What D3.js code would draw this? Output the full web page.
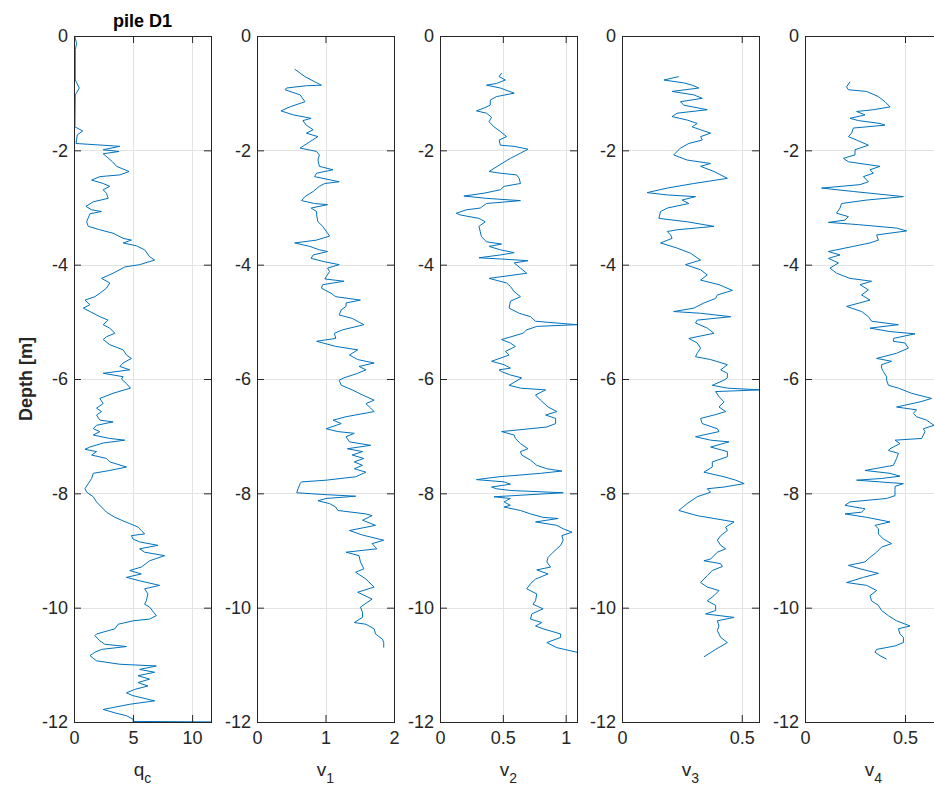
<!DOCTYPE html>
<html>
<head>
<meta charset="utf-8">
<script src="https://cdn.jsdelivr.net/npm/d3@7"></script>
<style>
body { margin: 0; background: #fff; }
svg { display: block; font-family: "Liberation Sans", Arial, sans-serif; }
</style>
</head>
<body>
<div id="main"></div>
<script>
/// data: [depth (m, positive down), value] ///
const qc = [[0,0.06],[0.13,0.22],[0.24,0.11],[0.77,0.11],[0.91,0.45],[1.03,0.11],[1.59,0.08],[1.66,0.73],[1.73,0.28],[1.88,0.17],
  [1.93,3.88],[1.99,2.47],[2.02,3.82],[2.06,2.47],[2.2,3.26],[2.28,3.6],[2.37,4.66],[2.43,3.88],[2.46,2.19],[2.52,1.49],
  [2.58,2.47],[2.63,3.03],[2.69,2.47],[2.75,2.75],[2.84,2.89],[2.9,1.63],[2.98,1.01],[3.04,1.49],[3.07,2.33],[3.11,1.35],
  [3.25,1.07],[3.33,1.21],[3.39,2.19],[3.45,3.31],[3.54,4.16],[3.57,4.86],[3.62,4.16],[3.67,5.28],[3.74,5.98],[3.86,6.4],
  [3.92,6.83],[4.0,5.56],[4.04,4.3],[4.15,3.31],[4.24,2.33],[4.32,3.03],[4.41,2.75],[4.5,2.19],[4.56,1.77],[4.62,0.93],
  [4.7,1.35],[4.76,0.79],[4.82,1.35],[4.91,2.19],[4.97,2.89],[5.05,2.47],[5.11,3.03],[5.2,3.46],[5.26,2.75],[5.31,2.47],
  [5.4,3.03],[5.49,4.16],[5.58,4.44],[5.64,4.86],[5.72,4.16],[5.78,3.88],[5.84,4.72],[5.9,2.47],[5.96,4.16],[6.0,4.02],
  [6.08,4.44],[6.16,4.78],[6.25,3.31],[6.34,2.19],[6.43,2.47],[6.51,1.91],[6.57,2.33],[6.63,1.91],[6.72,2.19],[6.75,3.31],
  [6.81,1.91],[6.87,1.63],[6.92,2.19],[6.98,1.63],[7.04,3.03],[7.07,4.3],[7.12,2.47],[7.19,1.35],[7.23,0.93],[7.27,1.91],
  [7.33,1.49],[7.39,2.75],[7.45,3.03],[7.54,4.44],[7.6,3.03],[7.65,1.63],[7.74,1.49],[7.83,1.21],[7.92,0.93],[7.98,1.07],
  [8.06,1.63],[8.15,1.91],[8.24,2.33],[8.33,2.75],[8.42,3.46],[8.47,4.02],[8.53,4.72],[8.59,5.42],[8.65,5.7],[8.71,5.98],
  [8.74,4.86],[8.8,5.0],[8.85,5.56],[8.91,7.11],[8.97,5.56],[9.03,5.98],[9.09,7.67],[9.18,6.4],[9.29,5.7],[9.35,4.72],
  [9.41,5.7],[9.47,4.44],[9.53,5.56],[9.61,7.25],[9.67,5.98],[9.76,6.26],[9.88,6.12],[9.94,5.98],[9.99,6.4],[10.14,6.97],
  [10.2,6.4],[10.23,5.0],[10.29,3.74],[10.37,3.46],[10.46,1.91],[10.49,1.77],[10.58,2.19],[10.64,2.61],[10.68,4.44],[10.73,2.33],
  [10.78,1.77],[10.84,1.35],[10.93,1.91],[10.99,3.88],[11.02,6.97],[11.08,5.56],[11.13,6.83],[11.19,5.42],[11.25,6.4],[11.31,5.42],
  [11.37,6.26],[11.43,5.14],[11.49,4.44],[11.54,5.0],[11.63,6.83],[11.69,4.72],[11.78,2.47],[11.84,3.46],[11.89,4.44],[11.95,5.0],
  [11.99,5.0],[12.0,13.0]];

const v1 = [[0.58,0.55],[0.71,0.70],[0.8,0.84],[0.86,0.94],[0.87,0.72],[0.91,0.43],[0.94,0.41],[1.03,0.63],[1.15,0.70],[1.24,0.48],
  [1.31,0.35],[1.38,0.53],[1.44,0.79],[1.48,0.67],[1.56,0.72],[1.64,0.82],[1.7,0.72],[1.76,0.89],[1.85,0.77],[1.96,0.63],
  [2.02,0.87],[2.08,0.91],[2.17,0.89],[2.28,0.91],[2.34,1.11],[2.4,0.87],[2.46,0.84],[2.55,1.2],[2.58,0.99],[2.63,0.91],
  [2.72,0.82],[2.81,0.70],[2.88,0.65],[2.93,0.84],[2.95,1.03],[3.01,0.79],[3.07,0.87],[3.13,0.87],[3.25,0.89],[3.33,0.96],
  [3.45,1.03],[3.5,1.06],[3.57,0.87],[3.62,0.55],[3.68,0.77],[3.74,0.91],[3.77,1.03],[3.83,0.82],[3.89,0.79],[3.95,0.99],
  [4.0,1.2],[4.06,1.03],[4.12,1.06],[4.21,1.01],[4.25,0.99],[4.29,1.27],[4.35,0.96],[4.41,0.94],[4.5,1.08],[4.56,1.15],
  [4.62,1.51],[4.67,1.3],[4.73,1.3],[4.79,1.23],[4.88,1.2],[4.94,1.39],[5.05,1.56],[5.14,1.25],[5.2,1.13],[5.29,1.15],
  [5.34,0.87],[5.43,1.15],[5.49,1.47],[5.58,1.35],[5.66,1.47],[5.72,1.71],[5.78,1.49],[5.84,1.59],[5.9,1.47],[5.98,1.27],
  [6.02,1.2],[6.11,1.23],[6.19,1.39],[6.28,1.54],[6.37,1.71],[6.43,1.59],[6.51,1.66],[6.57,1.71],[6.66,1.3],[6.72,1.11],
  [6.78,1.23],[6.87,1.01],[6.92,1.18],[6.95,1.42],[7.01,1.3],[7.1,1.35],[7.16,1.66],[7.22,1.32],[7.27,1.54],[7.33,1.39],
  [7.39,1.56],[7.45,1.42],[7.51,1.54],[7.57,1.42],[7.63,1.59],[7.71,1.44],[7.77,1.01],[7.8,0.65],[7.83,0.63],[7.92,0.6],
  [7.99,0.58],[8.02,0.96],[8.05,1.44],[8.09,1.01],[8.13,0.89],[8.18,1.06],[8.24,1.15],[8.3,1.18],[8.36,1.59],[8.39,1.68],
  [8.47,1.54],[8.56,1.73],[8.65,1.35],[8.73,1.54],[8.82,1.85],[8.88,1.68],[8.97,1.75],[9.03,1.3],[9.09,1.49],[9.2,1.51],
  [9.32,1.56],[9.38,1.44],[9.5,1.59],[9.64,1.71],[9.73,1.47],[9.85,1.68],[9.99,1.51],[10.08,1.54],[10.17,1.54],[10.26,1.42],
  [10.29,1.59],[10.37,1.71],[10.46,1.73],[10.55,1.83],[10.61,1.85],[10.7,1.85]];

const v2 = [[0.65,0.49],[0.71,0.47],[0.77,0.52],[0.83,0.45],[0.86,0.37],[0.91,0.48],[1.0,0.59],[1.06,0.45],[1.12,0.4],[1.21,0.4],
  [1.26,0.35],[1.31,0.29],[1.35,0.37],[1.42,0.41],[1.5,0.39],[1.59,0.43],[1.67,0.48],[1.76,0.53],[1.82,0.47],[1.91,0.48],
  [1.93,0.59],[1.98,0.7],[2.05,0.64],[2.14,0.56],[2.26,0.47],[2.37,0.39],[2.4,0.48],[2.43,0.61],[2.49,0.63],[2.58,0.64],
  [2.63,0.51],[2.69,0.48],[2.75,0.35],[2.8,0.19],[2.84,0.37],[2.88,0.64],[2.93,0.37],[3.01,0.32],[3.04,0.21],[3.1,0.13],
  [3.13,0.16],[3.19,0.31],[3.25,0.36],[3.33,0.31],[3.42,0.32],[3.51,0.33],[3.6,0.37],[3.64,0.49],[3.68,0.39],[3.74,0.48],
  [3.79,0.59],[3.83,0.48],[3.88,0.31],[3.9,0.48],[3.93,0.7],[3.97,0.59],[4.06,0.64],[4.15,0.69],[4.24,0.39],[4.32,0.53],
  [4.38,0.56],[4.47,0.59],[4.56,0.64],[4.64,0.56],[4.76,0.55],[4.85,0.63],[4.91,0.72],[4.99,0.76],[5.05,1.09],[5.08,0.77],
  [5.14,0.69],[5.2,0.66],[5.31,0.49],[5.37,0.56],[5.43,0.6],[5.52,0.52],[5.58,0.55],[5.69,0.41],[5.75,0.51],[5.81,0.56],
  [5.84,0.47],[5.87,0.49],[5.93,0.56],[5.98,0.65],[6.11,0.55],[6.16,0.64],[6.19,0.84],[6.28,0.76],[6.37,0.8],[6.49,0.86],
  [6.57,0.93],[6.63,0.84],[6.69,0.92],[6.78,0.92],[6.84,0.85],[6.92,0.49],[6.98,0.59],[7.04,0.6],[7.13,0.64],[7.22,0.7],
  [7.27,0.64],[7.33,0.65],[7.42,0.72],[7.51,0.77],[7.57,0.85],[7.61,0.97],[7.65,0.8],[7.71,0.47],[7.76,0.29],[7.8,0.51],
  [7.84,0.56],[7.89,0.41],[7.92,0.45],[7.95,0.56],[7.99,0.98],[8.04,0.59],[8.06,0.43],[8.09,0.56],[8.15,0.51],[8.21,0.56],
  [8.24,0.51],[8.3,0.64],[8.36,0.72],[8.42,0.82],[8.44,0.94],[8.5,0.76],[8.56,0.93],[8.62,0.98],[8.68,1.05],[8.74,0.97],
  [8.82,0.98],[8.91,0.96],[9.03,0.9],[9.12,0.86],[9.2,0.85],[9.29,0.88],[9.34,0.77],[9.41,0.86],[9.5,0.76],[9.58,0.72],
  [9.67,0.69],[9.76,0.77],[9.88,0.76],[9.94,0.74],[10.02,0.82],[10.11,0.73],[10.2,0.72],[10.26,0.81],[10.32,0.76],[10.37,0.82],
  [10.46,0.96],[10.52,0.96],[10.61,0.85],[10.7,0.93],[10.78,1.09]];

const v3 = [[0.71,0.237],[0.77,0.175],[0.82,0.258],[0.86,0.293],[0.91,0.321],[0.97,0.209],[1.03,0.3],[1.09,0.335],[1.15,0.244],[1.21,0.258],
  [1.29,0.356],[1.35,0.23],[1.41,0.209],[1.47,0.272],[1.53,0.314],[1.59,0.293],[1.64,0.328],[1.7,0.37],[1.76,0.328],[1.82,0.335],
  [1.88,0.279],[1.96,0.244],[2.08,0.216],[2.17,0.272],[2.23,0.37],[2.28,0.328],[2.37,0.384],[2.49,0.44],[2.58,0.3],[2.66,0.189],
  [2.74,0.105],[2.78,0.189],[2.81,0.307],[2.87,0.251],[2.93,0.279],[3.01,0.189],[3.07,0.161],[3.19,0.154],[3.25,0.272],[3.33,0.384],
  [3.39,0.23],[3.42,0.189],[3.48,0.203],[3.54,0.209],[3.62,0.161],[3.71,0.23],[3.8,0.286],[3.92,0.328],[4.0,0.265],[4.09,0.328],
  [4.18,0.356],[4.27,0.328],[4.35,0.405],[4.45,0.461],[4.53,0.398],[4.59,0.391],[4.67,0.342],[4.76,0.3],[4.82,0.216],[4.85,0.328],
  [4.91,0.454],[4.97,0.314],[5.02,0.307],[5.11,0.356],[5.2,0.384],[5.29,0.279],[5.37,0.314],[5.46,0.328],[5.55,0.314],[5.61,0.307],
  [5.66,0.37],[5.75,0.44],[5.84,0.412],[5.9,0.44],[5.98,0.44],[6.02,0.426],[6.11,0.377],[6.16,0.44],[6.19,0.58],[6.22,0.391],
  [6.31,0.405],[6.4,0.426],[6.49,0.405],[6.57,0.433],[6.63,0.384],[6.69,0.328],[6.78,0.335],[6.87,0.398],[6.92,0.405],[7.01,0.307],
  [7.07,0.37],[7.1,0.447],[7.19,0.37],[7.27,0.44],[7.36,0.44],[7.45,0.377],[7.54,0.377],[7.63,0.342],[7.71,0.426],[7.77,0.475],
  [7.83,0.51],[7.89,0.426],[7.92,0.356],[7.98,0.37],[8.06,0.314],[8.18,0.272],[8.3,0.237],[8.39,0.314],[8.47,0.426],[8.5,0.468],
  [8.59,0.433],[8.65,0.44],[8.74,0.412],[8.82,0.398],[8.91,0.412],[8.97,0.433],[9.03,0.398],[9.15,0.37],[9.18,0.342],[9.23,0.412],
  [9.28,0.419],[9.35,0.377],[9.44,0.356],[9.56,0.328],[9.64,0.356],[9.7,0.405],[9.79,0.384],[9.88,0.356],[9.96,0.391],[10.05,0.391],
  [10.11,0.349],[10.17,0.468],[10.23,0.398],[10.32,0.405],[10.4,0.398],[10.52,0.412],[10.61,0.44],[10.73,0.391],[10.86,0.342]];

const v4 = [[0.8,0.225],[0.89,0.208],[0.94,0.217],[0.97,0.308],[1.06,0.367],[1.15,0.4],[1.24,0.425],[1.29,0.342],[1.32,0.258],[1.38,0.3],
  [1.44,0.225],[1.48,0.267],[1.53,0.375],[1.56,0.4],[1.61,0.242],[1.7,0.233],[1.76,0.217],[1.82,0.258],[1.91,0.317],[1.99,0.25],
  [2.08,0.25],[2.14,0.192],[2.2,0.217],[2.28,0.375],[2.34,0.325],[2.4,0.342],[2.46,0.292],[2.55,0.317],[2.6,0.275],[2.66,0.083],
  [2.72,0.242],[2.81,0.492],[2.87,0.308],[2.93,0.183],[3.01,0.175],[3.1,0.158],[3.16,0.217],[3.22,0.2],[3.26,0.117],[3.3,0.267],
  [3.36,0.458],[3.41,0.508],[3.48,0.358],[3.57,0.367],[3.62,0.325],[3.68,0.242],[3.77,0.117],[3.83,0.175],[3.89,0.117],[3.97,0.167],
  [4.06,0.125],[4.15,0.158],[4.24,0.225],[4.29,0.333],[4.35,0.275],[4.44,0.317],[4.53,0.283],[4.62,0.325],[4.73,0.208],[4.82,0.283],
  [4.91,0.317],[4.99,0.333],[5.05,0.467],[5.11,0.325],[5.17,0.425],[5.21,0.55],[5.29,0.442],[5.34,0.442],[5.37,0.5],[5.46,0.517],
  [5.55,0.458],[5.64,0.358],[5.69,0.433],[5.75,0.383],[5.81,0.383],[5.87,0.392],[5.96,0.408],[6.02,0.408],[6.11,0.417],[6.16,0.467],
  [6.25,0.533],[6.34,0.633],[6.4,0.575],[6.49,0.458],[6.54,0.558],[6.6,0.542],[6.66,0.558],[6.72,0.608],[6.81,0.645],[6.87,0.592],
  [6.92,0.6],[6.98,0.592],[7.04,0.583],[7.07,0.45],[7.13,0.475],[7.22,0.425],[7.25,0.417],[7.3,0.467],[7.39,0.458],[7.51,0.442],
  [7.6,0.3],[7.65,0.425],[7.7,0.475],[7.74,0.383],[7.77,0.258],[7.8,0.375],[7.83,0.492],[7.88,0.45],[7.95,0.45],[8.04,0.45],
  [8.09,0.408],[8.15,0.225],[8.21,0.2],[8.27,0.3],[8.33,0.283],[8.36,0.2],[8.42,0.308],[8.5,0.425],[8.56,0.35],[8.62,0.367],
  [8.71,0.367],[8.8,0.392],[8.88,0.433],[8.94,0.383],[9.03,0.358],[9.12,0.325],[9.2,0.3],[9.26,0.217],[9.32,0.275],[9.4,0.367],
  [9.47,0.292],[9.56,0.208],[9.61,0.308],[9.7,0.358],[9.79,0.325],[9.88,0.333],[9.96,0.367],[10.05,0.383],[10.14,0.417],[10.23,0.458],
  [10.32,0.525],[10.37,0.467],[10.46,0.475],[10.52,0.492],[10.61,0.492],[10.67,0.45],[10.73,0.358],[10.78,0.35],[10.84,0.375],[10.9,0.408]];

const seriesList = [qc, v1, v2, v3, v4];
const seriesNames = [['q', 'c'], ['v', '1'], ['v', '2'], ['v', '3'], ['v', '4']];
const xMax = [11.6, 2, 1.09, 0.572, 0.685];
const xTicks = [[0, 5, 10], [0, 1, 2], [0, 0.5, 1], [0, 0.5], [0, 0.5]];
const depthTicks = [0, -2, -4, -6, -8, -10, -12];
const titleText = 'pile D1';
const yLabelText = 'Depth [m]';

/// layout ///
const w = 934;
const h = 792;
const yTop = 36;
const yBot = 722;
const pw = 137;
const lefts = [74, 257, 440, 622, 805];
const axisColor = '#262626';
const gridColor = '#e3e3e3';
const lineColor = '#0072BD';
const fs = 18;

let svg = d3.select('#main')
    .append('svg')
    .attr('width', w)
    .attr('height', h);

let y = d3.scaleLinear().domain([-12, 0]).range([yBot, yTop]);

seriesList.forEach((data, i) => {

    let g = svg.append('g').attr('transform', 'translate(' + lefts[i] + ',0)');

    let x = d3.scaleLinear().domain([0, xMax[i]]).range([0, pw]);

    // clip so lines stay inside the box
    svg.append('clipPath')
        .attr('id', 'clip' + i)
        .append('rect')
        .attr('x', 0).attr('y', yTop)
        .attr('width', pw).attr('height', yBot - yTop);

    // grid
    g.selectAll('.vgrid')
        .data(xTicks[i])
        .enter()
        .append('line')
        .attr('x1', d => Math.round(x(d)) + 0.5)
        .attr('x2', d => Math.round(x(d)) + 0.5)
        .attr('y1', yTop).attr('y2', yBot)
        .attr('stroke', gridColor);

    g.selectAll('.hgrid')
        .data(depthTicks)
        .enter()
        .append('line')
        .attr('x1', 0).attr('x2', pw)
        .attr('y1', d => Math.round(y(d)) + 0.5)
        .attr('y2', d => Math.round(y(d)) + 0.5)
        .attr('stroke', gridColor);

    // data line
    let line = d3.line()
        .x(d => x(d[1]))
        .y(d => y(-d[0]));

    g.append('path')
        .datum(data)
        .attr('clip-path', 'url(#clip' + i + ')')
        .attr('d', line)
        .attr('fill', 'none')
        .attr('stroke', lineColor)
        .attr('stroke-width', 1);

    // axes with inward ticks
    let yAxis = d3.axisLeft(y)
        .tickValues(depthTicks)
        .tickFormat(d => String(d))
        .tickSizeInner(-7)
        .tickSizeOuter(0)
        .tickPadding(6);

    let yAxisR = d3.axisRight(y)
        .tickValues(depthTicks)
        .tickFormat('')
        .tickSizeInner(-7)
        .tickSizeOuter(0);

    let xAxis = d3.axisBottom(x)
        .tickValues(xTicks[i])
        .tickFormat(d => String(d))
        .tickSizeInner(-7)
        .tickSizeOuter(0)
        .tickPadding(9);

    let xAxisT = d3.axisTop(x)
        .tickValues(xTicks[i])
        .tickFormat('')
        .tickSizeInner(-7)
        .tickSizeOuter(0);

    [[yAxis, 'translate(0,0)'], [yAxisR, 'translate(' + pw + ',0)'],
     [xAxis, 'translate(0,' + yBot + ')'], [xAxisT, 'translate(0,' + yTop + ')']].forEach(a => {
        let ag = g.append('g').attr('transform', a[1]).call(a[0]);
        ag.select('.domain').remove();
        ag.selectAll('line').attr('stroke', axisColor);
        ag.selectAll('text')
            .attr('fill', axisColor)
            .style('font-size', fs + 'px')
            .style('font-family', '"Liberation Sans", Arial, sans-serif');
    });

    // box
    g.append('rect')
        .attr('x', 0.5).attr('y', yTop + 0.5)
        .attr('width', pw).attr('height', yBot - yTop)
        .attr('fill', 'none')
        .attr('stroke', axisColor)
        .attr('stroke-width', 1);

    // x label with subscript
    let lab = g.append('text')
        .attr('x', pw / 2)
        .attr('y', 776)
        .attr('text-anchor', 'middle')
        .attr('fill', axisColor)
        .style('font-size', '19px');
    lab.append('tspan').text(seriesNames[i][0]);
    lab.append('tspan')
        .attr('dy', 7)
        .style('font-size', '14px')
        .text(seriesNames[i][1]);
});

// title
svg.append('text')
    .attr('x', lefts[0] + pw / 2)
    .attr('y', 27)
    .attr('text-anchor', 'middle')
    .attr('fill', '#000')
    .style('font-size', '18px')
    .style('font-weight', 'bold')
    .text(titleText);

// y label
svg.append('text')
    .attr('transform', 'translate(32,' + ((yTop + yBot) / 2) + ') rotate(-90)')
    .attr('text-anchor', 'middle')
    .attr('fill', axisColor)
    .style('font-size', '18px')
    .style('font-weight', 'bold')
    .text(yLabelText);
</script>
</body>
</html>
